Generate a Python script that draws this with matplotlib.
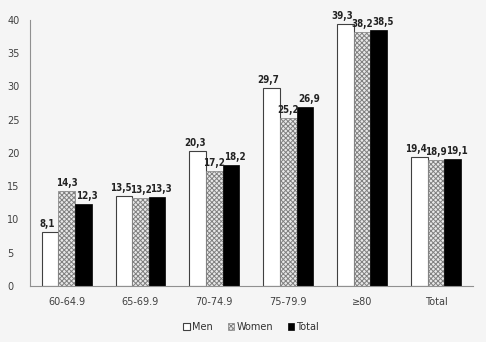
import numpy as np
import matplotlib
matplotlib.use("Agg")
from matplotlib import pyplot as plt

categories = ["60-64.9", "65-69.9", "70-74.9", "75-79.9", "\u226580", "Total"]
men = [8.1, 13.5, 20.3, 29.7, 39.3, 19.4]
women = [14.3, 13.2, 17.2, 25.2, 38.2, 18.9]
total = [12.3, 13.3, 18.2, 26.9, 38.5, 19.1]
series_names = ["Men", "Women", "Total"]

plt.rcParams["hatch.linewidth"] = 0.7
plt.rcParams["hatch.color"] = "#505050"

bg = "#f5f5f5"
fig = plt.figure(figsize=(4.86, 3.42), dpi=100, facecolor=bg)
ax = fig.add_axes([0.061, 0.164, 0.912, 0.778], facecolor=bg)

x = np.arange(len(categories))
w = 0.225
styles = [
    dict(color="white", edgecolor="#404040", linewidth=0.8),
    dict(color="#e8e8e8", edgecolor="#808080", linewidth=0.5, hatch="xxxxxxx"),
    dict(color="black", edgecolor="black", linewidth=0.5),
]
# small sideways nudge of the value labels (pixels), men left / total right
nudge = [-3, 0, 4]
for i, (vals, name, st) in enumerate(zip([men, women, total], series_names, styles)):
    bars = ax.bar(x + (i - 1) * w, vals, w, label=name, **st)
    for b, v in zip(bars, vals):
        ax.annotate(f"{v:.1f}".replace(".", ","),
                    (b.get_x() + b.get_width() / 2, v),
                    xytext=(nudge[i], 3), textcoords="offset pixels",
                    ha="center", va="bottom", fontsize=7, fontweight="bold",
                    fontstretch="condensed", color="#222222")

ax.set_xlim(-0.5, len(categories) - 0.5)
ax.set_ylim(0, 40)
ax.set_yticks(range(0, 41, 5))
ax.set_xticks(x)
ax.set_xticklabels(categories)
ax.tick_params(length=0, labelsize=7, colors="#404040", pad=8)
ax.tick_params(axis="y", pad=16)
for s in ["top", "right"]:
    ax.spines[s].set_visible(False)
for s in ["left", "bottom"]:
    ax.spines[s].set_color("#909090")
    ax.spines[s].set_linewidth(0.8)
for t in ax.get_yticklabels():
    t.set_horizontalalignment("left")

leg = ax.legend(loc="center", bbox_to_anchor=(0.5, -0.154), ncol=3, frameon=False,
                fontsize=7, handlelength=0.7, handleheight=0.7, handletextpad=0.2,
                columnspacing=1.5, labelcolor="#303030")

fig.savefig("out.png", dpi=100, facecolor=bg)
